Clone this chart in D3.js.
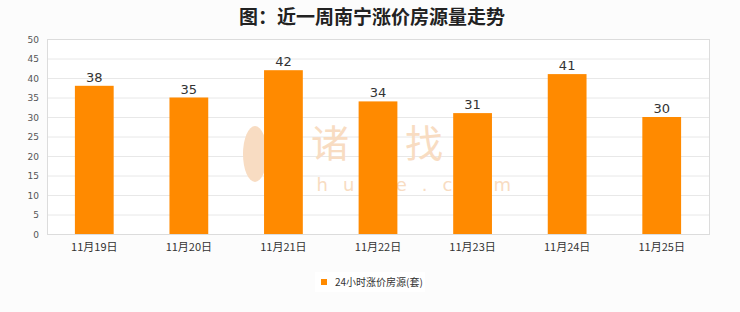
<!DOCTYPE html>
<html>
<head>
<meta charset="utf-8">
<script src="https://cdn.jsdelivr.net/npm/d3@7/dist/d3.min.js"></script>
<style>
  html, body { margin: 0; padding: 0; background: #fcfcfc; }
  svg { display: block; }
</style>
</head>
<body>
<div id="chart"></div>
<script>
const title = '图：近一周南宁涨价房源量走势';
const categories = ['11月19日', '11月20日', '11月21日', '11月22日', '11月23日', '11月24日', '11月25日'];
const values = [38, 35, 42, 34, 31, 41, 30];
const yTicks = [0, 5, 10, 15, 20, 25, 30, 35, 40, 45, 50];
const seriesName = '24小时涨价房源(套)';

const W = 740, H = 312;
const margin = { top: 39, right: 31, bottom: 78, left: 47 };
const width = W - margin.left - margin.right;
const height = H - margin.top - margin.bottom;

const svg = d3.select('#chart').append('svg')
  .attr('width', W)
  .attr('height', H);

svg.append('rect').attr('width', W).attr('height', H).attr('fill', '#fcfcfc');

svg.append('text')
  .attr('x', W / 2 + 2)
  .attr('y', 24)
  .attr('text-anchor', 'middle')
  .attr('font-family', '"Noto Sans CJK SC", sans-serif')
  .attr('font-weight', 'bold')
  .attr('font-size', 19)
  .attr('fill', '#222')
  .text(title);

const g = svg.append('g').attr('transform', `translate(${margin.left},${margin.top})`);

const x = d3.scaleBand()
  .domain(categories)
  .range([0, width])
  .paddingInner(0.59)
  .paddingOuter(0.295);

const y = d3.scaleLinear()
  .domain([0, 50])
  .range([height, 0]);

// plot background + grid
g.append('rect').attr('width', width).attr('height', height).attr('fill', '#fff');

g.selectAll('.grid')
  .data(yTicks)
  .enter()
  .append('line')
  .attr('x1', 0).attr('x2', width)
  .attr('y1', d => y(d) + 0.5).attr('y2', d => y(d) + 0.5)
  .attr('stroke', '#e8e8e8');

g.append('rect')
  .attr('x', 0.5).attr('y', 0.5)
  .attr('width', width).attr('height', height)
  .attr('fill', 'none')
  .attr('stroke', '#dcdcdc');

// watermark
const wm = g.append('g').attr('fill', '#f8dcc2');
wm.append('text')
  .attr('x', 358).attr('y', 118)
  .attr('text-anchor', 'middle')
  .attr('font-family', '"Noto Sans CJK SC", sans-serif')
  .attr('font-size', 38)
  .attr('letter-spacing', 9)
  .text('诸葛找房');
wm.append('text')
  .attr('x', 362).attr('y', 152)
  .attr('text-anchor', 'middle')
  .attr('font-family', '"DejaVu Sans", sans-serif')
  .attr('font-size', 18)
  .attr('letter-spacing', 15)
  .text('zhuge.com');
wm.append('ellipse')
  .attr('cx', 208).attr('cy', 115).attr('rx', 12).attr('ry', 28);

// bars
g.selectAll('.bar')
  .data(values)
  .enter()
  .append('rect')
  .attr('x', (d, i) => x(categories[i]))
  .attr('y', d => y(d))
  .attr('width', x.bandwidth())
  .attr('height', d => height - y(d))
  .attr('fill', '#ff8a00');

g.selectAll('.val')
  .data(values)
  .enter()
  .append('text')
  .attr('x', (d, i) => x(categories[i]) + x.bandwidth() / 2)
  .attr('y', d => y(d) - 4)
  .attr('text-anchor', 'middle')
  .attr('font-family', '"DejaVu Sans", sans-serif')
  .attr('font-size', 13)
  .attr('fill', '#333')
  .text(d => d);

// y axis labels
g.selectAll('.ylab')
  .data(yTicks)
  .enter()
  .append('text')
  .attr('x', -8)
  .attr('y', d => y(d) + 3.5)
  .attr('text-anchor', 'end')
  .attr('font-family', '"DejaVu Sans", sans-serif')
  .attr('font-size', 9)
  .attr('fill', '#555')
  .text(d => d);

// x axis labels
g.selectAll('.xlab')
  .data(categories)
  .enter()
  .append('text')
  .attr('x', d => x(d) + x.bandwidth() / 2)
  .attr('y', height + 17)
  .attr('text-anchor', 'middle')
  .attr('font-family', '"Noto Sans CJK SC", sans-serif')
  .attr('font-size', 11)
  .attr('fill', '#333')
  .text(d => d);

// legend
const lg = svg.append('g').attr('transform', 'translate(315,272)');
lg.append('rect').attr('width', 110).attr('height', 20).attr('fill', '#fff');
lg.append('rect').attr('x', 6).attr('y', 7).attr('width', 6).attr('height', 6).attr('fill', '#ff8a00');
lg.append('text')
  .attr('x', 20).attr('y', 14)
  .attr('font-family', '"Noto Sans CJK SC", sans-serif')
  .attr('font-size', 10)
  .attr('fill', '#333')
  .text(seriesName);
</script>
</body>
</html>
